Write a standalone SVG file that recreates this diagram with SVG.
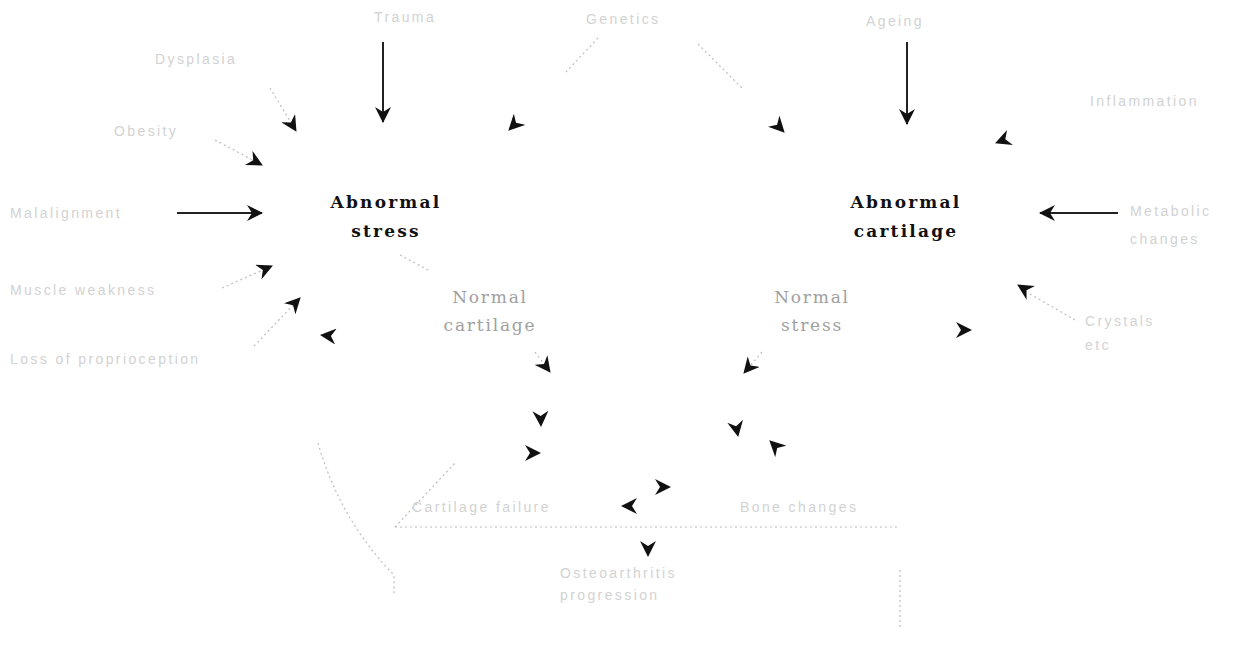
<svg xmlns="http://www.w3.org/2000/svg" width="1241" height="659" viewBox="0 0 1241 659">
<style>
.main{font-family:"DejaVu Serif","Liberation Serif",serif;font-size:17px;font-weight:bold;fill:#111;letter-spacing:2.2px;text-anchor:middle}
.mid{font-family:"DejaVu Serif","Liberation Serif",serif;font-size:17px;fill:#a0a0a0;letter-spacing:1.8px;text-anchor:middle}
.faint{font-family:"Liberation Sans",sans-serif;font-size:14px;fill:#d2d2d2;letter-spacing:2.4px}
.solid{stroke:#222;stroke-width:2;fill:none}
.dot{stroke:#bdbdbd;stroke-width:1.2;stroke-dasharray:2 3;fill:none}
.ghost{stroke:#fff;stroke-opacity:0;stroke-width:1;fill:none}
</style>
<defs>
<marker id="ah" markerUnits="userSpaceOnUse" markerWidth="18" markerHeight="16" refX="15" refY="8" orient="auto">
<path d="M0,0 L16,8 L0,16 L5,8 z" fill="#111"/>
</marker>
</defs>
<rect width="1241" height="659" fill="#fff"/>
<g id="connectors">
<line class="solid" x1="383" y1="42" x2="383" y2="122" marker-end="url(#ah)"/>
<line class="solid" x1="907" y1="42" x2="907" y2="124" marker-end="url(#ah)"/>
<line class="solid" x1="177" y1="213" x2="262" y2="213" marker-end="url(#ah)"/>
<line class="solid" x1="1118" y1="213" x2="1040" y2="213" marker-end="url(#ah)"/>
<line class="dot" x1="270" y1="88" x2="296" y2="131" marker-end="url(#ah)"/>
<line class="dot" x1="215" y1="140" x2="262" y2="165" marker-end="url(#ah)"/>
<path class="dot" d="M598,38 L566,72"/>
<line class="ghost" x1="566" y1="72" x2="509" y2="130" marker-end="url(#ah)"/>
<path class="dot" d="M698,44 L742,88"/>
<line class="ghost" x1="742" y1="88" x2="784" y2="132" marker-end="url(#ah)"/>
<line class="ghost" x1="1080" y1="110" x2="996" y2="143" marker-end="url(#ah)"/>
<line class="dot" x1="222" y1="288" x2="272" y2="266" marker-end="url(#ah)"/>
<line class="dot" x1="254" y1="346" x2="300" y2="298" marker-end="url(#ah)"/>
<line class="ghost" x1="350" y1="338" x2="321" y2="335" marker-end="url(#ah)"/>
<path class="dot" d="M318,443 Q340,520 394,575 L394,594"/>
<path class="dot" d="M400,255 L428,270"/>
<line class="dot" x1="535" y1="352" x2="550" y2="372" marker-end="url(#ah)"/>
<line class="dot" x1="762" y1="352" x2="744" y2="373" marker-end="url(#ah)"/>
<line class="ghost" x1="1075" y1="320" x2="1018" y2="285" marker-end="url(#ah)"/>
<line class="dot" x1="1075" y1="320" x2="1030" y2="294"/>
<line class="ghost" x1="940" y1="330" x2="971" y2="330" marker-end="url(#ah)"/>
<line class="ghost" x1="540" y1="400" x2="541" y2="426" marker-end="url(#ah)"/>
<line class="ghost" x1="515" y1="453" x2="540" y2="453" marker-end="url(#ah)"/>
<line class="ghost" x1="733" y1="410" x2="738" y2="436" marker-end="url(#ah)"/>
<line class="ghost" x1="800" y1="470" x2="770" y2="441" marker-end="url(#ah)"/>
<line class="ghost" x1="645" y1="487" x2="670" y2="487" marker-end="url(#ah)"/>
<line class="ghost" x1="650" y1="506" x2="622" y2="506" marker-end="url(#ah)"/>
<line class="ghost" x1="648" y1="532" x2="648" y2="556" marker-end="url(#ah)"/>
<path class="dot" d="M395,527 L900,527"/>
<path class="dot" d="M395,527 L455,463"/>
<path class="dot" d="M900,570 L900,630"/>
</g>
<g id="node-abnormal-stress"><text class="main" x="386" y="208">Abnormal</text><text class="main" x="386" y="237">stress</text></g>
<g id="node-abnormal-cartilage"><text class="main" x="906" y="208">Abnormal</text><text class="main" x="906" y="237">cartilage</text></g>
<g id="node-normal-cartilage"><text class="mid" x="490" y="303">Normal</text><text class="mid" x="490" y="331">cartilage</text></g>
<g id="node-normal-stress"><text class="mid" x="812" y="303">Normal</text><text class="mid" x="812" y="331">stress</text></g>
<g id="node-trauma"><text class="faint" x="374" y="22">Trauma</text></g>
<g id="node-genetics"><text class="faint" x="586" y="24">Genetics</text></g>
<g id="node-ageing"><text class="faint" x="866" y="26">Ageing</text></g>
<g id="node-dysplasia"><text class="faint" x="155" y="64">Dysplasia</text></g>
<g id="node-obesity"><text class="faint" x="114" y="136">Obesity</text></g>
<g id="node-inflammation"><text class="faint" x="1090" y="106">Inflammation</text></g>
<g id="node-malalignment"><text class="faint" x="10" y="218">Malalignment</text></g>
<g id="node-muscle"><text class="faint" x="10" y="295">Muscle weakness</text></g>
<g id="node-proprio"><text class="faint" x="10" y="364">Loss of proprioception</text></g>
<g id="node-metabolic"><text class="faint" x="1130" y="216">Metabolic</text><text class="faint" x="1130" y="244">changes</text></g>
<g id="node-crystal"><text class="faint" x="1085" y="326">Crystals</text><text class="faint" x="1085" y="350">etc</text></g>
<g id="node-failure"><text class="faint" x="412" y="512">Cartilage failure</text></g>
<g id="node-bone"><text class="faint" x="740" y="512">Bone changes</text></g>
<g id="node-oa"><text class="faint" x="560" y="578">Osteoarthritis</text><text class="faint" x="560" y="600">progression</text></g>
</svg>
